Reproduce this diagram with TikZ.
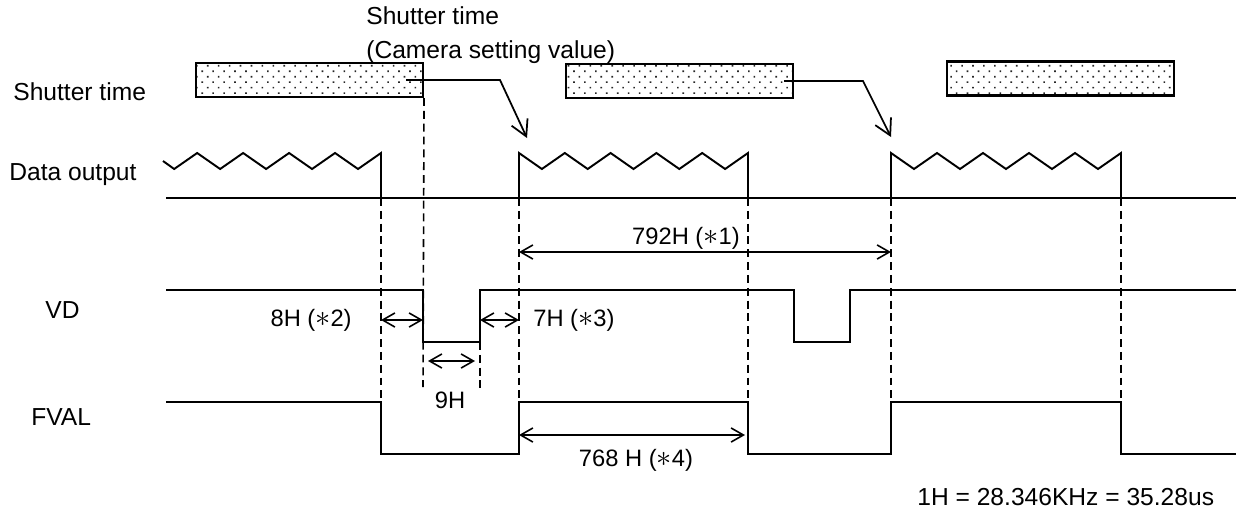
\documentclass[tikz,border=0pt]{standalone}
\usepackage{fontspec}
\setmainfont{Liberation Sans}
\usepackage{tikz}
\usetikzlibrary{arrows.meta,patterns.meta,positioning,calc}
\tikzset{
  sig/.style={line width=1.1pt,line join=miter},
  guide/.style={line width=0.9pt,dash pattern=on 4.5pt off 2.8pt},
  dim/.style={{Straight Barb[length=7pt,width=8pt]}-{Straight Barb[length=7pt,width=8pt]},line width=0.9pt},
  shutterbox/.style={draw,line width=1.2pt,pattern={Dots[distance=4.4pt,radius=0.65pt,angle=45]},pattern color=black!85,minimum width=4.54cm,minimum height=0.68cm,inner sep=0pt},
  shutterarrow/.style={-{Straight Barb[length=9pt,width=10pt]},line width=1pt},
  siglabel/.style={anchor=west,font=\fontsize{14}{17}\selectfont,inner sep=0pt},
  dimlabel/.style={font=\fontsize{13.5}{16}\selectfont,inner sep=0pt}
}
\newcommand{\burst}[2]{\draw[sig] (#1,198) -- (#1,153) \foreach \k in {1,...,10}{ -- ({#1+\k*(#2-#1)/10},{mod(\k,2)==1 ? 169 : 153}) } -- (#2,198);}
\newcommand{\astr}{{\fontsize{19}{19}\selectfont$\ast$}}

\begin{document}
\begin{tikzpicture}[x=0.02cm,y=-0.02cm]
\useasboundingbox (0,0) rectangle (1245,514);

% row labels
\node[siglabel] (lshutter) at (13,92) {Shutter time};
\node[siglabel] (ldata) at (9,175) {Data output};
\node[siglabel] (lvd) at (45,310) {VD};
\node[siglabel] (lfval) at (31,417) {FVAL};
\node[siglabel,align=left,font=\fontsize{14}{19.5}\selectfont] (lsetting) at (366,35) {Shutter time\\(Camera setting value)};

% shutter windows
\node[shutterbox] (box1) at (309.5,80) {};
\node[shutterbox] (box2) at (679.5,81) {};
\node[shutterbox] (box3) at (1060.5,78.5) {};

\coordinate (bend1) at (500,80);
\coordinate (tip1) at (527,138);
\coordinate (bend2) at (863,81);
\coordinate (tip2) at (891,137);

% guide lines
\foreach \t in {381,519,748,891,1121} \draw[guide] (\t,198) -- (\t,402);
\draw[guide] (box1.south east) -- (423,387);
\draw[guide] (480,342) -- (480,388);

% data output
\draw[sig] (166,198) -- (1236,198);
\draw[sig] (163,161) \foreach \k in {1,...,10}{ -- ({151.2+\k*22.98},{mod(\k,2)==1 ? 169 : 153}) } -- (381,198);
\burst{519}{748}
\burst{891}{1121}

\draw[shutterarrow] ([xshift=-0.36cm]box1.east) -- (bend1) -- (tip1);
\draw[shutterarrow] ([xshift=-0.2cm]box2.east) -- (bend2) -- (tip2);

% VD and FVAL
\draw[sig] (166,290) -- (423,290) -- (423,342) -- (480,342) -- (480,290) -- (794,290) -- (794,342) -- (850,342) -- (850,290) -- (1236,290);
\draw[sig] (166,402) -- (381,402) -- (381,454) -- (519,454) -- (519,402) -- (748,402) -- (748,454) -- (891,454) -- (891,402) -- (1121,402) -- (1121,454) -- (1236,454);

% timing marks
\coordinate (f1) at (519,252); \coordinate (f2) at (891,252);
\coordinate (a1) at (381,320); \coordinate (a2) at (423,320);
\coordinate (b1) at (480,320); \coordinate (b2) at (519,320);
\coordinate (p1) at (428,361); \coordinate (p2) at (475,361);
\coordinate (v1) at (519,435); \coordinate (v2) at (745,435);

\draw[dim] (f1) -- (f2);\draw[dim] (a1) -- (a2);\draw[dim] (b1) -- (b2);\draw[dim] (p1) -- (p2);\draw[dim] (v1) -- (v2);

\node[dimlabel,anchor=east] (n792) at (740,238) {792H (\astr1)};
\node[dimlabel,anchor=east] (n8) at (352,320) {8H (\astr2)};
\node[dimlabel,anchor=west] (n7) at (533,320) {7H (\astr3)};
\node[dimlabel] (n9) at (450,400) {9H};
\node[dimlabel] (n768) at (636,460) {768 H (\astr4)};
\node[siglabel] (nfreq) at (917,497) {1H = 28.346KHz = 35.28us};
\end{tikzpicture}
\end{document}
